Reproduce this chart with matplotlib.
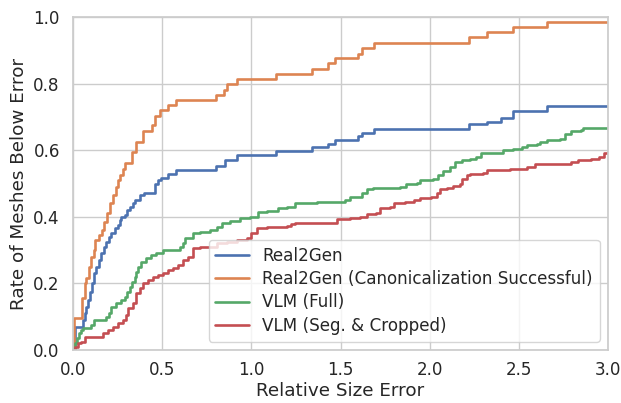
import matplotlib
matplotlib.use("Agg")
import matplotlib.pyplot as plt
import seaborn as sns

labels = ["Real2Gen", "Real2Gen (Canonicalization Successful)", "VLM (Full)", "VLM (Seg. & Cropped)"]

real2gen_x = [0, 0.01, 0.056, 0.065, 0.075, 0.084, 0.095, 0.107, 0.12, 0.131, 0.145, 0.159, 0.172, 0.187,
              0.20, 0.215, 0.235, 0.252, 0.262, 0.271, 0.293, 0.305, 0.318, 0.335, 0.346, 0.374, 0.40,
              0.458, 0.475, 0.495, 0.533, 0.58, 0.80, 0.85, 0.918, 1.14, 1.34, 1.43, 1.47, 1.60, 1.62,
              1.69, 2.22, 2.32, 2.40, 2.47, 2.66, 3.0]
real2gen_y = [0, 0.07, 0.09, 0.11, 0.13, 0.15, 0.175, 0.20, 0.23, 0.25, 0.27, 0.29, 0.31, 0.325,
              0.34, 0.35, 0.365, 0.375, 0.39, 0.40, 0.405, 0.42, 0.43, 0.44, 0.45, 0.465, 0.472,
              0.50, 0.51, 0.518, 0.53, 0.54, 0.553, 0.572, 0.586, 0.598, 0.61, 0.62, 0.63, 0.643, 0.653,
              0.664, 0.678, 0.686, 0.698, 0.719, 0.733, 0.733]

canon_x = [0, 0.005, 0.05, 0.065, 0.075, 0.088, 0.10, 0.116, 0.125, 0.144, 0.16, 0.175, 0.19, 0.205,
           0.21, 0.225, 0.24, 0.255, 0.265, 0.28, 0.29, 0.33, 0.355, 0.39, 0.445, 0.46, 0.49, 0.53,
           0.575, 0.80, 0.849, 0.862, 0.918, 1.137, 1.34, 1.43, 1.47, 1.60, 1.62, 1.69, 2.22, 2.32,
           2.47, 2.66, 3.0]
canon_y = [0, 0.096, 0.156, 0.20, 0.216, 0.25, 0.28, 0.30, 0.33, 0.345, 0.36, 0.385, 0.41, 0.43,
           0.44, 0.465, 0.49, 0.51, 0.525, 0.545, 0.563, 0.595, 0.625, 0.657, 0.675, 0.703, 0.72, 0.735,
           0.75, 0.766, 0.78, 0.798, 0.813, 0.829, 0.844, 0.861, 0.876, 0.89, 0.907, 0.923, 0.94, 0.954,
           0.969, 0.985, 0.985]

vlm_full_x = [0, 0.01, 0.02, 0.035, 0.047, 0.056, 0.10, 0.115, 0.187, 0.20, 0.215, 0.243, 0.271, 0.29,
              0.305, 0.318, 0.33, 0.346, 0.355, 0.365, 0.383, 0.411, 0.44, 0.467, 0.505, 0.598, 0.617,
              0.628, 0.675, 0.712, 0.768, 0.806, 0.834, 0.88, 0.937, 0.993, 1.04, 1.086, 1.15, 1.198,
              1.245, 1.366, 1.525, 1.553, 1.619, 1.647, 1.68, 1.834, 1.87, 1.927, 1.946, 2.02, 2.048,
              2.077, 2.114, 2.14, 2.18, 2.226, 2.26, 2.29, 2.41, 2.47, 2.516, 2.544, 2.60, 2.62, 2.656,
              2.73, 2.76, 2.79, 2.85, 2.86, 3.0]
vlm_full_y = [0, 0.02, 0.035, 0.05, 0.06, 0.065, 0.075, 0.09, 0.10, 0.11, 0.13, 0.14, 0.15, 0.16,
              0.175, 0.19, 0.205, 0.22, 0.235, 0.25, 0.265, 0.275, 0.285, 0.292, 0.30, 0.31, 0.32,
              0.335, 0.35, 0.355, 0.36, 0.368, 0.38, 0.388, 0.395, 0.40, 0.415, 0.418, 0.425, 0.43,
              0.442, 0.445, 0.45, 0.46, 0.47, 0.482, 0.485, 0.488, 0.498, 0.502, 0.512, 0.515, 0.525,
              0.538, 0.55, 0.565, 0.572, 0.575, 0.58, 0.592, 0.60, 0.605, 0.61, 0.617, 0.62, 0.625, 0.63,
              0.635, 0.65, 0.658, 0.662, 0.668, 0.668]

vlm_seg_x = [0, 0.01, 0.028, 0.047, 0.065, 0.168, 0.196, 0.224, 0.252, 0.28, 0.299, 0.308, 0.336, 0.355,
             0.374, 0.393, 0.42, 0.449, 0.477, 0.505, 0.533, 0.56, 0.589, 0.617, 0.645, 0.675, 0.712,
             0.806, 0.862, 0.918, 0.975, 1.0, 1.03, 1.086, 1.15, 1.198, 1.22, 1.245, 1.30, 1.48, 1.553,
             1.61, 1.647, 1.70, 1.72, 1.775, 1.80, 1.86, 1.91, 1.946, 2.01, 2.04, 2.058, 2.095, 2.133,
             2.17, 2.18, 2.21, 2.226, 2.30, 2.32, 2.45, 2.544, 2.59, 2.71, 2.79, 2.83, 2.905, 2.95, 2.98,
             3.0]
vlm_seg_y = [0, 0.01, 0.02, 0.025, 0.04, 0.05, 0.06, 0.07, 0.08, 0.09, 0.105, 0.125, 0.14, 0.17,
             0.185, 0.20, 0.21, 0.218, 0.225, 0.23, 0.24, 0.245, 0.255, 0.27, 0.28, 0.305, 0.31,
             0.32, 0.325, 0.33, 0.335, 0.35, 0.365, 0.368, 0.37, 0.372, 0.378, 0.382, 0.382, 0.393, 0.395,
             0.40, 0.408, 0.41, 0.425, 0.43, 0.44, 0.445, 0.45, 0.455, 0.46, 0.47, 0.482, 0.485, 0.492,
             0.50, 0.515, 0.525, 0.53, 0.533, 0.54, 0.545, 0.55, 0.558, 0.56, 0.565, 0.57, 0.575, 0.58, 0.592,
             0.595]

x_ticks = [0.0, 0.5, 1.0, 1.5, 2.0, 2.5, 3.0]
y_ticks = [0.0, 0.2, 0.4, 0.6, 0.8, 1.0]

sns.set_theme(style="whitegrid", palette="deep", font_scale=1.1)
colors = sns.color_palette("deep")

fig = plt.figure(figsize=(6.21, 4.03), dpi=100)
ax = fig.add_axes([73 / 621, 1 - 350 / 403, (608 - 73) / 621, (350 - 17) / 403])

series = [(real2gen_x, real2gen_y), (canon_x, canon_y), (vlm_full_x, vlm_full_y), (vlm_seg_x, vlm_seg_y)]
for (xs, ys), lab, c in zip(series, labels, colors):
    ax.plot(xs, ys, drawstyle="steps-post", color=c, label=lab, linewidth=1.9)

ax.set_xlim(0, 3.0)
ax.set_ylim(0, 1.0)
ax.set_xticks(x_ticks)
ax.set_yticks(y_ticks)
ax.tick_params(axis="x", pad=2)
ax.set_xlabel("Relative Size Error", labelpad=2)
ax.set_ylabel("Rate of Meshes Below Error")
ax.legend(loc="lower right", labelspacing=0.32)

fig.savefig("out.png", dpi=100)
